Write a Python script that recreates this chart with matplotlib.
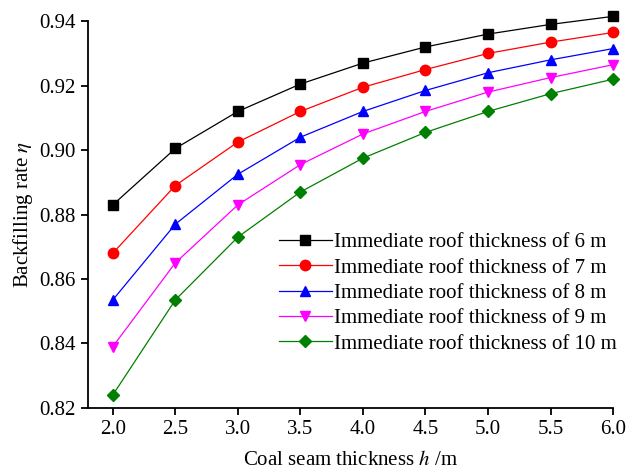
import matplotlib
matplotlib.use("Agg")
import matplotlib.pyplot as plt

# 데이터
coal_thickness = [2.0, 2.5, 3.0, 3.5, 4.0, 4.5, 5.0, 5.5, 6.0]
roof_6m = [0.883, 0.9005, 0.912, 0.9205, 0.927, 0.932, 0.936, 0.939, 0.9415]
roof_7m = [0.868, 0.889, 0.9025, 0.912, 0.9195, 0.925, 0.930, 0.9335, 0.9365]
roof_8m = [0.8535, 0.877, 0.8925, 0.904, 0.912, 0.9185, 0.924, 0.928, 0.9315]
roof_9m = [0.839, 0.865, 0.883, 0.8955, 0.905, 0.912, 0.918, 0.9225, 0.9265]
roof_10m = [0.824, 0.8535, 0.873, 0.887, 0.8975, 0.9055, 0.912, 0.9175, 0.922]

series_labels = [
    "Immediate roof thickness of 6 m",
    "Immediate roof thickness of 7 m",
    "Immediate roof thickness of 8 m",
    "Immediate roof thickness of 9 m",
    "Immediate roof thickness of 10 m",
]
x_ticks = [2.0, 2.5, 3.0, 3.5, 4.0, 4.5, 5.0, 5.5, 6.0]
y_ticks = [0.82, 0.84, 0.86, 0.88, 0.90, 0.92, 0.94]

plt.rcParams["font.family"] = ["Liberation Serif", "DejaVu Serif"]
plt.rcParams["mathtext.fontset"] = "stix"

fig = plt.figure(figsize=(6.36, 4.71), dpi=100, facecolor="white")
ax = fig.add_axes([0.138, 0.134, 0.826, 0.821])

styles = [
    ("black", "s"),
    ("red", "o"),
    ("blue", "^"),
    ("magenta", "v"),
    ("green", "D"),
]
all_series = [roof_6m, roof_7m, roof_8m, roof_9m, roof_10m]
for values, label, (color, marker) in zip(all_series, series_labels, styles):
    ms = 6.5 if marker == "D" else 7.5
    ax.plot(coal_thickness, values, color=color, marker=marker, markersize=ms,
            linewidth=0.9, label=label, clip_on=False)

ax.set_xlim(1.8, 6.0)
ax.set_ylim(0.82, 0.94)
ax.set_xticks(x_ticks)
ax.set_xticklabels([f"{v:.1f}" for v in x_ticks])
ax.set_yticks(y_ticks)
ax.set_yticklabels([f"{v:.2f}" for v in y_ticks])

for spine in ("top", "right"):
    ax.spines[spine].set_visible(False)
for spine in ("left", "bottom"):
    ax.spines[spine].set_linewidth(1.3)
ax.tick_params(direction="out", length=5, width=1.3, labelsize=15)

ax.set_xlabel(r"Coal seam thickness $\mathit{h}$ /m", fontsize=15, labelpad=9)
ax.set_ylabel(r"Backfilling rate $\mathit{\eta}$", fontsize=15, labelpad=3)

ax.legend(loc="upper left", bbox_to_anchor=(0.349, 0.475), frameon=False,
          fontsize=15, handlelength=2.5, handletextpad=0.1,
          labelspacing=0.28, borderaxespad=0)

fig.savefig("out.png", dpi=100, facecolor="white")
